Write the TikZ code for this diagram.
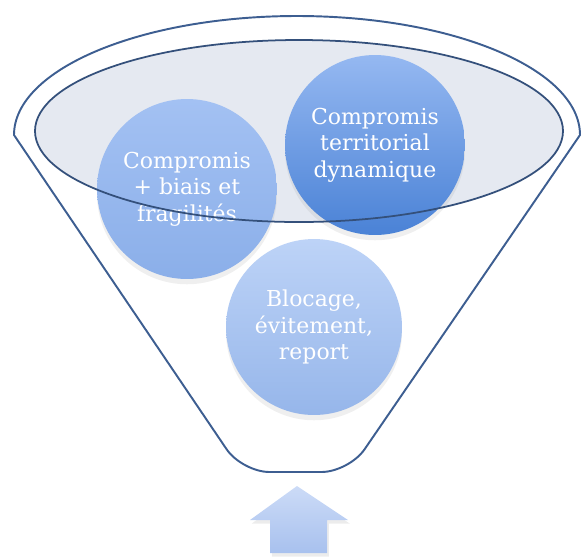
\documentclass[tikz,border=0pt]{standalone}
\usepackage{fontspec}
\setmainfont{DejaVu Serif}
\usetikzlibrary{shadows}

\definecolor{rimblue}{HTML}{3D5E91}
\definecolor{ringgray}{HTML}{E5E9F1}
\definecolor{discAtop}{HTML}{A3C1F3}
\definecolor{discAbot}{HTML}{8BAFE9}
\definecolor{discBtop}{HTML}{95B8F1}
\definecolor{discBbot}{HTML}{4A82D6}
\definecolor{discCtop}{HTML}{BDD3F7}
\definecolor{discCbot}{HTML}{96B6EA}
\definecolor{arrtop}{HTML}{CCDBF7}
\definecolor{arrbot}{HTML}{A8C1EE}

\begin{document}
\begin{tikzpicture}[x=0.02cm, y=-0.02cm]
    \tikzstyle{fun_rim}  = [draw = rimblue, line width=1.1pt]
    \tikzstyle{fun_ring} = [draw = rimblue!85!black, line width=1pt]
    \tikzstyle{fun_disc} = [shape = circle, minimum size=3.6cm, inner sep=0pt, text = white, align = center,
                            font = \fontsize{12.5}{15}\selectfont,
                            drop shadow = {opacity=0.12, shadow xshift=0pt, shadow yshift=-3pt}]
    \tikzstyle{fun_arrow} = [top color = arrtop, bottom color = arrbot, draw = none,
                             drop shadow = {opacity=0.15, shadow xshift=1pt, shadow yshift=-2pt}]

    \useasboundingbox (0,0) rectangle (582,556);

    % funnel
    \draw[fun_rim, fill = white] (14,135) arc[start angle=180, end angle=360, x radius=283, y radius=119]
      [rounded corners=0.55cm] -- (349,472) -- (242,472) [sharp corners] -- cycle;
    \fill[ringgray] (299,131) ellipse [x radius=264, y radius=91];

    \node[fun_disc, top color = discAtop, bottom color = discAbot] at (187,189) (disc_bias)
      {Compromis\\+ biais et\\fragilités};
    \node[fun_disc, top color = discBtop, bottom color = discBbot] at (375,145) (disc_terr)
      {Compromis\\territorial\\dynamique};
    \node[fun_disc, minimum size=3.52cm, top color = discCtop, bottom color = discCbot] at (314,327) (disc_block)
      {Blocage,\\évitement,\\report};

    % inner rim
    \draw[fun_ring] (299,131) ellipse [x radius=264, y radius=91];

    % input arrow
    \path[fun_arrow] (297,486) -- (348,520) -- (327,520) -- (327,553)
      -- (270,553) -- (270,520) -- (250,520) -- cycle;
\end{tikzpicture}
\end{document}
